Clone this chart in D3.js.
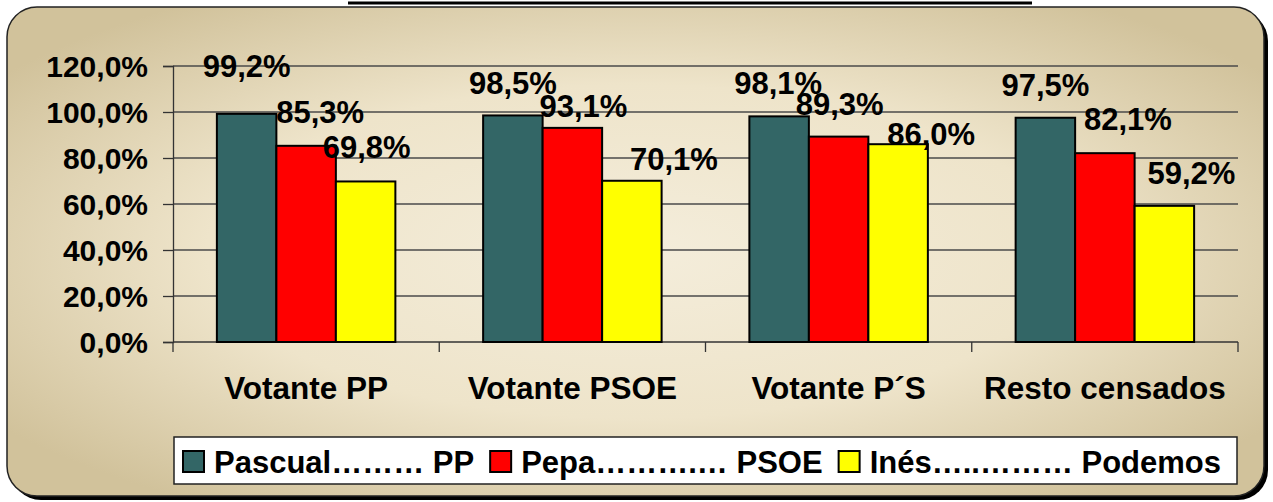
<!DOCTYPE html>
<html>
<head>
<meta charset="utf-8">
<script src="https://cdn.jsdelivr.net/npm/d3@7"></script>
<style>
  body { margin: 0; background: #fff; }
  svg { display: block; }
  text { font-family: "Liberation Sans", Arial, sans-serif; font-weight: bold; fill: #000; }
</style>
</head>
<body>
<svg id="chart"></svg>
<script>
// categories and series
const categories = ["Votante PP", "Votante PSOE", "Votante P´S", "Resto censados"];
const seriesNames = ["Pascual……… PP", "Pepa……….… PSOE", "Inés…..……… Podemos"];
const pascual = [99.2, 98.5, 98.1, 97.5];
const pepa = [85.3, 93.1, 89.3, 82.1];
const ines = [69.8, 70.1, 86.0, 59.2];
const yTicks = [0, 20, 40, 60, 80, 100, 120];
const colors = ["#336666", "#ff0000", "#ffff00"];

// manual nudges of the data labels (dx, dy from bar top centre), like the moved excel labels
const labelNudge = [
  [[0, -37], [14, -23], [1, -23]],
  [[0, -21], [11, -11], [42, -11]],
  [[-1, -22], [1, -22], [33, 1]],
  [[0, -22], [23, -23], [27, -22]]
];

const width = 1273, height = 502;
const margin = { top: 66, left: 173, right: 35, bottom: 160 };
const innerW = width - margin.left - margin.right;
const innerH = height - margin.top - margin.bottom;

const svg = d3.select("#chart").attr("width", width).attr("height", height);

const defs = svg.append("defs");
const grad = defs.append("radialGradient").attr("id", "bg")
  .attr("cx", "50%").attr("cy", "50%").attr("r", "62%");
grad.append("stop").attr("offset", "0%").attr("stop-color", "#f4eddb");
grad.append("stop").attr("offset", "55%").attr("stop-color", "#eee4ca");
grad.append("stop").attr("offset", "100%").attr("stop-color", "#d1c29b");

// black line at the top (title underline)
svg.append("rect").attr("x", 348).attr("y", 1.5).attr("width", 684).attr("height", 3).attr("fill", "#000");

// frame with shadow
svg.append("rect").attr("x", 11).attr("y", 11).attr("width", 1257).attr("height", 489)
  .attr("rx", 30).attr("fill", "#000");
svg.append("rect").attr("x", 7).attr("y", 7).attr("width", 1257).attr("height", 489)
  .attr("rx", 30).attr("fill", "url(#bg)").attr("stroke", "#222").attr("stroke-width", 1.5);

const g = svg.append("g").attr("transform", `translate(${margin.left},${margin.top})`);

const y = d3.scaleLinear().domain([0, 120]).range([innerH, 0]);
const x0 = d3.scaleBand().domain(categories).range([0, innerW]).padding(0);
const x1 = d3.scaleBand().domain(d3.range(3)).range([0, x0.bandwidth()])
  .paddingInner(0).paddingOuter(0.7375);

const fmt = v => d3.format(".1f")(v).replace(".", ",") + "%";

// gridlines
g.selectAll(".grid").data(yTicks.filter(t => t > 0)).enter().append("line")
  .attr("x1", 0).attr("x2", innerW)
  .attr("y1", d => y(d)).attr("y2", d => y(d))
  .attr("stroke", "#4a4a4a").attr("stroke-width", 1.3);

// y axis
const yAxis = g.append("g").call(d3.axisLeft(y).tickValues(yTicks).tickSize(10).tickPadding(15).tickFormat(fmt));
yAxis.select(".domain").attr("stroke", "#333").attr("stroke-width", 1.3);
yAxis.selectAll(".tick line").attr("stroke", "#333").attr("stroke-width", 1.3);
yAxis.selectAll("text").style("font-size", "30px").attr("fill", "#000").attr("dy", "0.36em");

// x axis with ticks at category boundaries
const xAxis = g.append("g").attr("transform", `translate(0,${innerH})`);
xAxis.append("line").attr("x1", 0).attr("x2", innerW).attr("stroke", "#333").attr("stroke-width", 1.3);
xAxis.selectAll(".xt").data(d3.range(categories.length + 1)).enter().append("line")
  .attr("x1", i => i * x0.step()).attr("x2", i => i * x0.step())
  .attr("y1", 0).attr("y2", 10).attr("stroke", "#333").attr("stroke-width", 1.3);
xAxis.selectAll(".xl").data(categories).enter().append("text")
  .attr("x", d => x0(d) + x0.bandwidth() / 2).attr("y", 57)
  .attr("text-anchor", "middle").style("font-size", "31.5px").text(d => d);

// bars
const series = [pascual, pepa, ines];
const rows = categories.map((c, ci) => series.map((s, si) => ({ c, ci, si, v: s[ci] })));

const grp = g.selectAll(".grp").data(rows).enter().append("g")
  .attr("transform", d => `translate(${x0(d[0].c)},0)`);

grp.selectAll("rect").data(d => d).enter().append("rect")
  .attr("x", d => x1(d.si)).attr("width", x1.bandwidth())
  .attr("y", d => y(d.v)).attr("height", d => innerH - y(d.v))
  .attr("fill", d => colors[d.si]).attr("stroke", "#000").attr("stroke-width", 2);

grp.selectAll(".lbl").data(d => d).enter().append("text")
  .attr("x", d => x1(d.si) + x1.bandwidth() / 2 + labelNudge[d.ci][d.si][0])
  .attr("y", d => y(d.v) + labelNudge[d.ci][d.si][1])
  .attr("text-anchor", "middle").style("font-size", "31px")
  .text(d => fmt(d.v));

// legend
const legend = svg.append("g");
legend.append("rect").attr("x", 174).attr("y", 437).attr("width", 1063).attr("height", 47)
  .attr("fill", "#fff").attr("stroke", "#222").attr("stroke-width", 1.5);

let lx = 183;
seriesNames.forEach((name, i) => {
  legend.append("rect").attr("x", lx).attr("y", 451).attr("width", 21).attr("height", 21)
    .attr("fill", colors[i]).attr("stroke", "#000").attr("stroke-width", 2);
  const t = legend.append("text").attr("x", lx + 31).attr("y", 472.5)
    .style("font-size", "31px").text(name);
  lx = lx + 31 + t.node().getComputedTextLength() + 16;
});
</script>
</body>
</html>
